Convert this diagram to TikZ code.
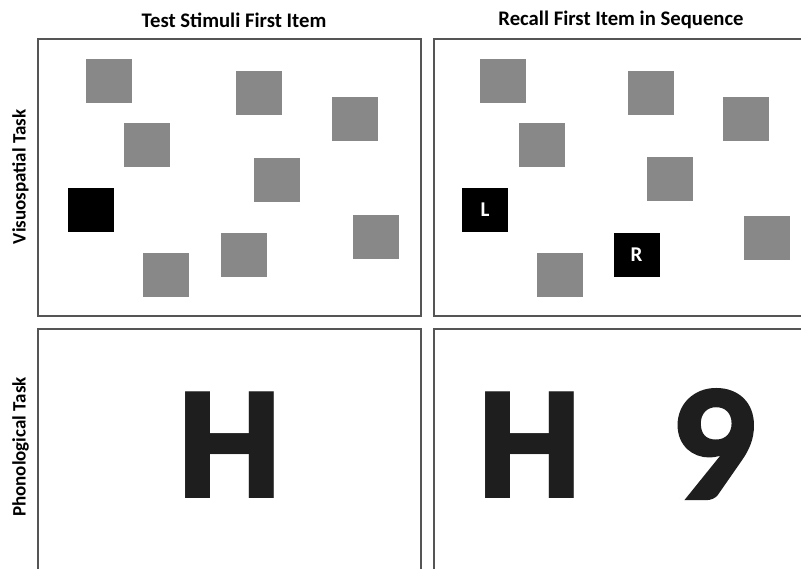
\documentclass[tikz,border=0pt]{standalone}
\usepackage{fontspec}
\setmainfont{Carlito}
\newfontfamily\bigfont{Poppins}
\newfontfamily\ninefont{Carlito}[BoldFeatures={FakeBold=2}]
\definecolor{sqgray}{HTML}{888888}
\definecolor{framegray}{HTML}{555555}
\definecolor{glyphcol}{HTML}{1E1E1E}
\tikzset{
  panel/.style={draw=framegray, line width=1.5pt, fill=white, inner sep=0pt},
  sq/.style={fill=sqgray, minimum width=46pt, minimum height=44pt, inner sep=0pt},
  blk/.style={fill=black, minimum width=46pt, minimum height=44pt, inner sep=0pt, text=white, font=\fontsize{21}{21}\selectfont\bfseries},
  title/.style={font=\fontsize{20.7}{20.7}\selectfont\bfseries, inner sep=0pt},
  side/.style={font=\fontsize{19}{19}\selectfont\bfseries, inner sep=0pt, rotate=90},
  big/.style={font=\fontsize{152}{152}\selectfont\bigfont\bfseries, text=glyphcol, inner sep=0pt, anchor=base, xscale=0.96, transform shape},
  bignine/.style={font=\fontsize{166}{166}\selectfont\ninefont\bfseries, text=glyphcol, inner sep=0pt, anchor=base, xscale=1.02, transform shape}
}
\begin{document}
\begin{tikzpicture}[x=1pt,y=-1pt]
\useasboundingbox (0,0) rectangle (801,568);
\fill[white] (0,0) rectangle (801,568);
\begin{scope}
\clip (0,0) rectangle (801,568);
% panels
\node[panel, minimum width=383pt, minimum height=277pt] (tl) at (229.5,177.5) {};
\node[panel, minimum width=386pt, minimum height=277pt] (tr) at (627,177.5) {};
\node[panel, minimum width=383pt, minimum height=271pt] (bl) at (229.5,464.5) {};
\node[panel, minimum width=386pt, minimum height=271pt] (br) at (627,464.5) {};
% left squares
\node[sq] (a1) at (109,81) {};
\node[sq] (a2) at (259,93) {};
\node[sq] (a3) at (355,119) {};
\node[sq] (a4) at (147,144.5) {};
\node[sq] (a5) at (277,180) {};
\node[blk] (a6) at (90.5,210) {};
\node[sq] (a7) at (376,237) {};
\node[sq] (a8) at (244,255) {};
\node[sq] (a9) at (165.5,275) {};
% right squares
\node[sq] (b1) at (503,81) {};
\node[sq] (b2) at (651,93) {};
\node[sq] (b3) at (746,119) {};
\node[sq] (b4) at (542,144.5) {};
\node[sq] (b5) at (669.5,179) {};
\node[blk] (b6) at (485,210) {L};
\node[sq] (b7) at (767,237.5) {};
\node[blk] (b8) at (636.5,254.5) {R};
\node[sq] (b9) at (559.5,275) {};
% big glyphs
\node[big] (h1) at (230,498.5) {H};
\node[big] (h2) at (529.7,498.5) {H};
\node[bignine] (n9) at (713,498.5) {9};
\end{scope}
% titles
\node[title] (t1) at (234,20) {Test Stimuli First Item};
\node[title] (t2) at (621,20) {Recall First Item in Sequence};
\node[side] (s1) at (20.5,177) {Visuospatial Task};
\node[side] (s2) at (20.5,447) {Phonological Task};
\end{tikzpicture}
\end{document}
